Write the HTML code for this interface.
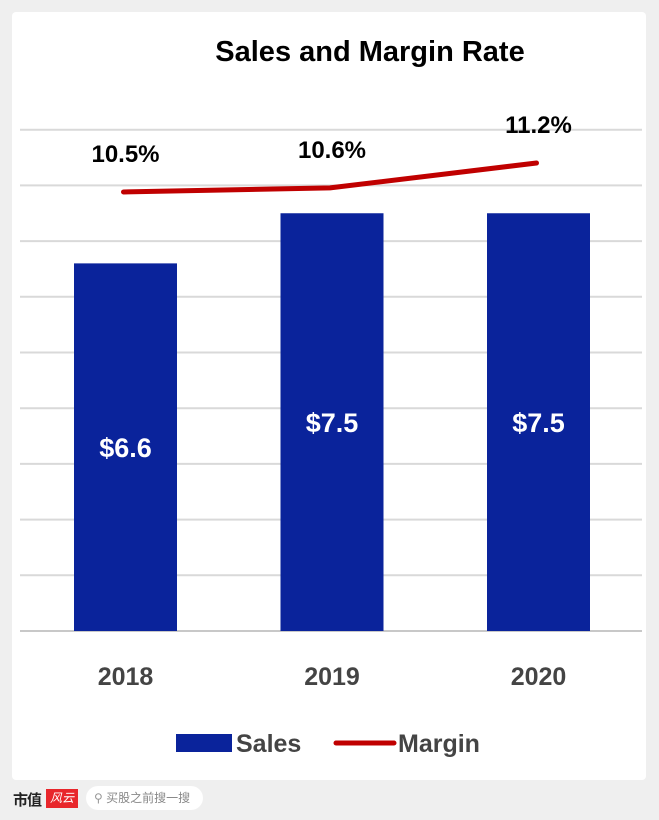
<!DOCTYPE html>
<html><head><meta charset="utf-8">
<style>
html,body{margin:0;padding:0;background:#efefef;}
body{width:659px;height:820px;position:relative;overflow:hidden;font-family:"Liberation Sans","Noto Sans CJK SC",sans-serif;}
#panel{position:absolute;left:12px;top:12px;width:634px;height:768px;background:#fff;border-radius:4px;}
#chart{position:absolute;left:0;top:0;}
#logo{position:absolute;left:13px;top:789px;font-size:15px;font-weight:bold;color:#222;font-family:"Noto Sans CJK SC",sans-serif;letter-spacing:-1px;}
#logo-red{position:absolute;left:46px;top:789px;width:32px;height:19px;background:#e8262b;color:#fff;font-size:12px;line-height:19px;text-align:center;font-style:italic;}
#search{position:absolute;left:86px;top:786px;width:117px;height:24px;background:#fff;border-radius:12px;font-size:12px;color:#888;line-height:24px;}
</style></head>
<body>
<div id="panel"></div>
<svg id="chart" width="659" height="820"></svg>
<div id="logo">市值</div>
<div id="logo-red">风云</div>
<div id="search"><span style="margin-left:8px;color:#999;">&#9906;</span> 买股之前搜一搜</div>
<script>
const categories = ["2018","2019","2020"];
const sales = [6.6, 7.5, 7.5];
const salesLabels = ["$6.6","$7.5","$7.5"];
const margin = [10.5, 10.6, 11.2];
const marginLabels = ["10.5%","10.6%","11.2%"];
const gridTicks = [0,1,2,3,4,5,6,7,8,9];

const NS="http://www.w3.org/2000/svg";
const svg=document.getElementById('chart');
function mk(tag,attrs){const e=document.createElementNS(NS,tag);for(const k in attrs)e.setAttribute(k,attrs[k]);svg.appendChild(e);return e;}
const y0=631, unit=55.7;
const ySales=v=>y0-v*unit;
const yMargin=v=>192-(v-10.5)*41.4;
const xCenter=i=>125.5+i*206.5;
const barW=103;

const title=mk('text',{x:370,y:61,'text-anchor':'middle','font-size':29,'font-weight':'bold',fill:'#000'});


title.textContent='Sales and Margin Rate';

gridTicks.forEach(t=>{
  const l=mk('line',{x1:20,x2:642,y1:ySales(t),y2:ySales(t),stroke:t===0?'#c8c8c8':'#d9d9d9','stroke-width':2});
  
  
});

categories.forEach((c,i)=>{
  const b=mk('rect',{x:xCenter(i)-barW/2,y:ySales(sales[i]),width:barW,height:y0-ySales(sales[i]),fill:'#0a239b'});
  
  
  const t=mk('text',{x:xCenter(i),y:(ySales(sales[i])+y0)/2+10,'text-anchor':'middle','font-size':27,'font-weight':'bold',fill:'#fff'});
  
  
  t.textContent=salesLabels[i];
  const xl=mk('text',{x:xCenter(i),y:685,'text-anchor':'middle','font-size':25,'font-weight':'bold',fill:'#444'});
  
  
  xl.textContent=c;
});

let d='';
margin.forEach((v,i)=>{d+=(i?'L':'M')+(xCenter(i)-2)+','+yMargin(v);});
const ml=mk('path',{d:d,fill:'none',stroke:'#c00000','stroke-width':5,'stroke-linecap':'round','stroke-linejoin':'round'});


margin.forEach((v,i)=>{
  const t=mk('text',{x:xCenter(i),y:yMargin(v)-30,'text-anchor':'middle','font-size':24,'font-weight':'bold',fill:'#000'});
  
  
  t.textContent=marginLabels[i];
});

const lr=mk('rect',{x:176,y:734,width:56,height:18,fill:'#0a239b'});


const lt=mk('text',{x:236,y:752,'font-size':25,'font-weight':'bold',fill:'#444'});


lt.textContent='Sales';
const ll=mk('line',{x1:336,x2:394,y1:743,y2:743,stroke:'#c00000','stroke-width':5,'stroke-linecap':'round'});


const lt2=mk('text',{x:398,y:752,'font-size':25,'font-weight':'bold',fill:'#444'});


lt2.textContent='Margin';
</script>
</body></html>
